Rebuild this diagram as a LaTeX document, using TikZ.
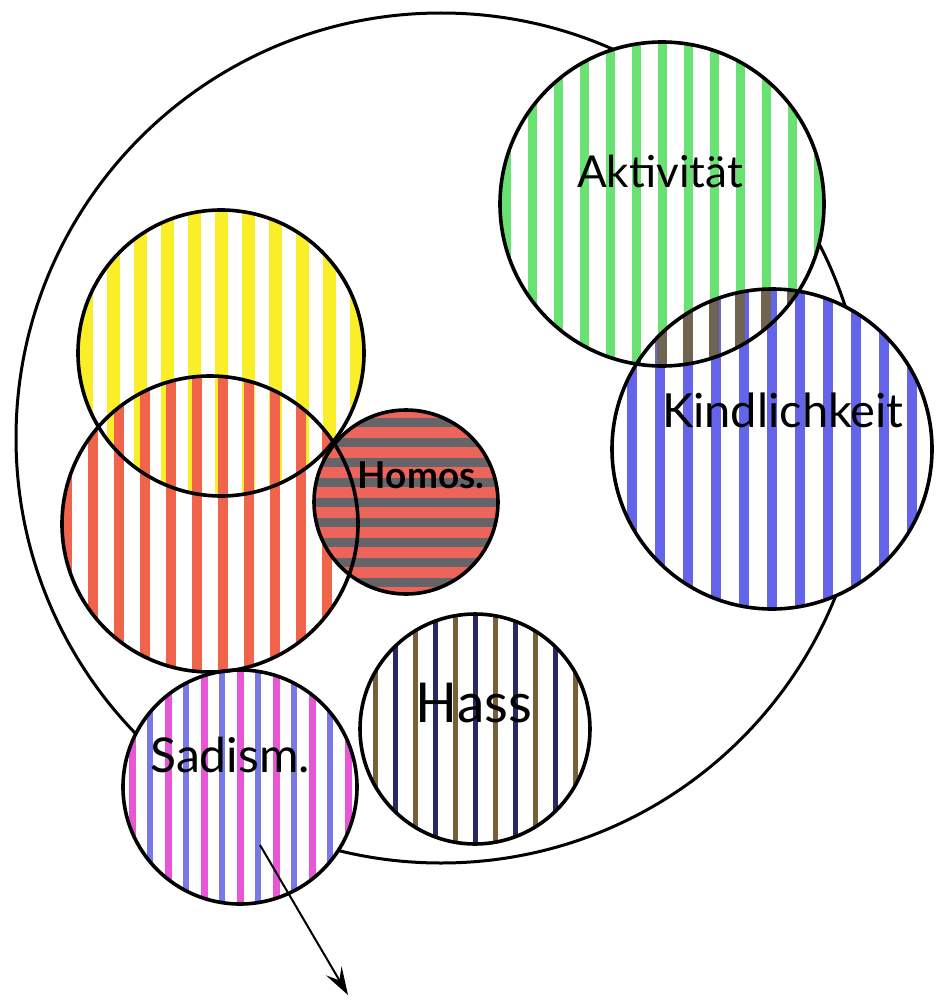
\documentclass[tikz,border=0pt]{standalone}
\usepackage{fontspec}
\setmainfont{Lato}
\usepackage{tikz}
\usetikzlibrary{calc,arrows.meta}

\definecolor{aktgreen}{RGB}{105,225,115}
\definecolor{kindblue}{RGB}{100,100,235}
\definecolor{yelstripe}{RGB}{250,238,40}
\definecolor{redstripe}{RGB}{240,100,75}
\definecolor{homosred}{RGB}{236,100,90}
\definecolor{homosgrey}{RGB}{100,100,105}
\definecolor{sadpink}{RGB}{232,85,215}
\definecolor{sadblue}{RGB}{120,120,230}
\definecolor{hassdark}{RGB}{40,40,100}
\definecolor{hassbrown}{RGB}{120,95,55}
\definecolor{mixdark}{RGB}{110,100,80}

%% stripes inside a node: colour, spacing, width, offset
\newcommand{\vstripes}[4]{%
    \foreach \i in {-14,...,14}
        \fill[#1] ($(path picture bounding box.center)+(\i*#2+#4-#3/2,-200)$) rectangle ++(#3,400);}
\newcommand{\hstripes}[4]{%
    \foreach \i in {-14,...,14}
        \fill[#1] ($(path picture bounding box.center)+(-200,\i*#2+#4-#3/2)$) rectangle ++(400,#3);}

\tikzset{
    blob/.style={
        circle,
        inner sep=0pt,
        minimum size=#1,
        fill=white
    },
    ring/.style={
        draw=black,
        line width=3.6pt
    },
    lbl/.style={
        anchor=base,
        inner sep=0pt,
        text=black
    }
}

\begin{document}
\begin{tikzpicture}[x=1pt,y=-1pt]
    \useasboundingbox (0,0) rectangle (938,1003);

    %% outer circle
    \node (psyche) [circle,draw,line width=3pt,inner sep=0pt,minimum size=850pt] at (441,438) {};

    %% coloured circles
    \node (yel) [blob=286pt,path picture={\vstripes{yelstripe}{27}{13}{0}}] at (221,353) {};
    \node (red) [blob=296pt,fill=none,path picture={\vstripes{redstripe}{26}{10}{13}}] at (210,524) {};
    \node (homos) [blob=184pt,fill=homosred,path picture={\hstripes{homosgrey}{20}{9}{0}}] at (406,502) {};
    \node (akt) [blob=324pt,path picture={\vstripes{aktgreen}{26}{9}{0}}] at (662,204) {};
    \node (kind) [blob=320pt,path picture={\vstripes{kindblue}{28}{10}{0}}] at (772,449) {};
    \node (hass) [blob=230pt,path picture={\vstripes{hassdark}{40}{5}{0}\vstripes{hassbrown}{40}{5}{20}}] at (475,729) {};
    \node (sad) [blob=234pt,path picture={\vstripes{sadpink}{36}{7}{0}\vstripes{sadblue}{36}{6}{18}}] at (240,787) {};

    %% Aktivitaet / Kindlichkeit overlap
    \begin{scope}
        \clip (akt.center) circle (162);
        \clip (kind.center) circle (160);
        \fill[white] (kind.center) circle (160);
        \foreach \i in {-6,...,6} {
            \fill[mixdark] ($(akt.center)+(\i*26-5,0)$) rectangle ++(10,200);
            \fill[kindblue] ($(kind.center)+(\i*28-5,-200)$) rectangle ++(10,200);
        }
    \end{scope}

    %% outlines
    \foreach \n/\r in {yel/143,red/148,homos/92,akt/162,kind/160,hass/115,sad/117}
        \draw[ring] (\n.center) circle (\r);

    %% labels
    \node (aktlbl) [lbl,font=\fontsize{44}{44}\selectfont] at (660,187) {Aktivität};
    \node (kindlbl) [lbl,font=\fontsize{47}{47}\selectfont] at (783,427) {Kindlichkeit};
    \node (homoslbl) [lbl,font=\bfseries\fontsize{37}{37}\selectfont] at (421,488) {Homos.};
    \node (hasslbl) [lbl,font=\fontsize{55}{55}\selectfont] at (474,722) {Hass};
    \node (sadlbl) [lbl,font=\fontsize{48}{48}\selectfont] at (230,772) {Sadism.};

    %% arrow out of Sadism.
    \coordinate (sadtail) at (260,845);
    \coordinate (sadtip) at (348,995);
    \draw[line width=2pt,-{Stealth[length=28pt,width=18pt,inset=11pt]}] (sadtail) -- (sadtip);

\end{tikzpicture}
\end{document}
